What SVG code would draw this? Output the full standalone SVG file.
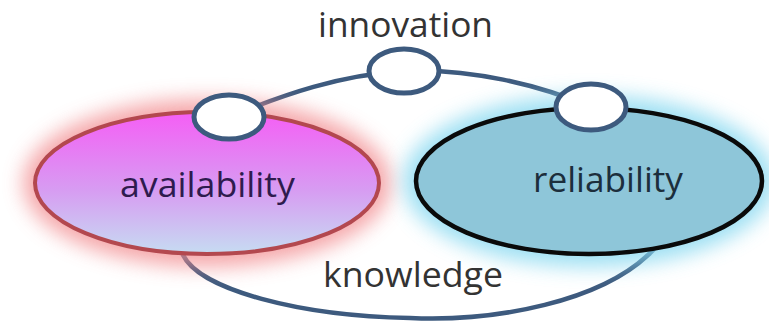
<svg xmlns="http://www.w3.org/2000/svg" width="769" height="323" viewBox="0 0 769 323">
  <defs>
    <linearGradient id="availGrad" x1="0" y1="0" x2="0" y2="1">
      <stop offset="0" stop-color="#f55ef5"/>
      <stop offset="0.55" stop-color="#d79cf2"/>
      <stop offset="1" stop-color="#c6dcf2"/>
    </linearGradient>
    <filter id="glow" x="-30%" y="-40%" width="160%" height="180%">
      <feGaussianBlur stdDeviation="10"/>
    </filter>
    <style>
      .lbl { font-family: "Open Sans", "Liberation Sans", sans-serif; font-size: 34px; }
      .loop { fill: none; stroke: #3d5a7e; stroke-width: 4.5; }
      .knot { fill: #ffffff; stroke: #3d5a7e; stroke-width: 5; }
    </style>
  </defs>
  <rect width="769" height="323" fill="#ffffff"/>

  <g id="connectors">
    <path class="loop" d="M 229 117 C 285 94 340 75 404 71 C 470 68 540 85 591 107 C 660 140 690 220 648 255 C 600 300 500 322 410 318 C 300 316 200 290 183 255 C 160 200 190 140 229 117 Z"/>
  </g>

  <g id="availability">
    <ellipse cx="207" cy="183" rx="184" ry="84" fill="#f28a8e" filter="url(#glow)" opacity="0.75"/>
    <ellipse cx="207" cy="183" rx="172" ry="71" fill="url(#availGrad)" stroke="#b3484f" stroke-width="4"/>
    <text class="lbl" x="120" y="197" fill="#2e1b4e" textLength="175" lengthAdjust="spacingAndGlyphs">availability</text>
  </g>

  <g id="reliability">
    <ellipse cx="589" cy="181" rx="186" ry="86" fill="#86d8f0" filter="url(#glow)" opacity="0.8"/>
    <ellipse cx="589" cy="181" rx="173" ry="73" fill="#8ec6d9" stroke="#0a0a0a" stroke-width="4.5"/>
    <text class="lbl" x="533" y="192" fill="#1c2e3c" textLength="150" lengthAdjust="spacingAndGlyphs">reliability</text>
  </g>

  <g id="knot-left">
    <ellipse class="knot" cx="229" cy="117" rx="35" ry="22"/>
  </g>
  <g id="knot-top">
    <ellipse class="knot" cx="404" cy="71" rx="35" ry="22"/>
  </g>
  <g id="knot-right">
    <ellipse class="knot" cx="591" cy="107" rx="35" ry="23"/>
  </g>

  <g id="innovation">
    <text class="lbl" x="318" y="37" fill="#333333" textLength="175" lengthAdjust="spacingAndGlyphs">innovation</text>
  </g>
  <g id="knowledge">
    <text class="lbl" x="323" y="287" fill="#333333" textLength="180" lengthAdjust="spacingAndGlyphs">knowledge</text>
  </g>
</svg>
